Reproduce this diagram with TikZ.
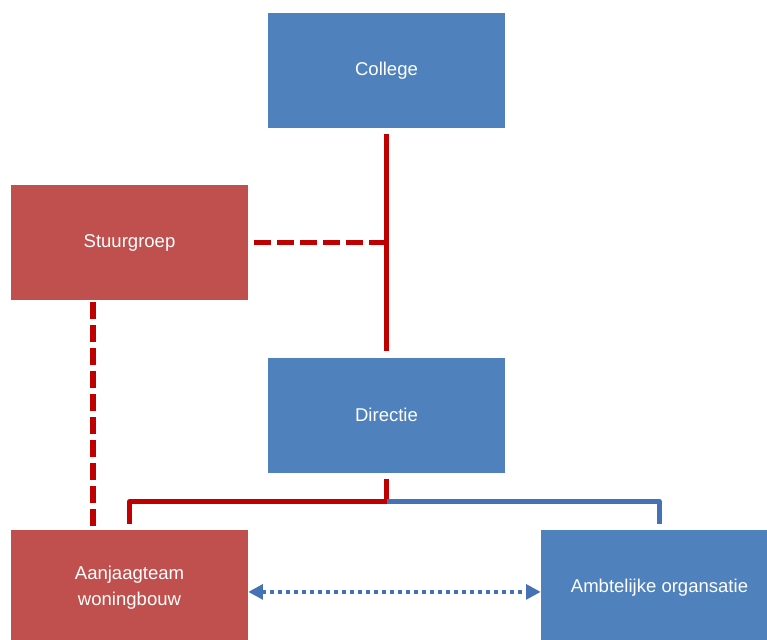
\documentclass[tikz,border=0pt]{standalone}
\usepackage{fontspec}
\setmainfont{Liberation Sans}
\usetikzlibrary{positioning}
\usetikzlibrary{arrows.meta}

\definecolor{boxBlue}{RGB}{79,129,189}
\definecolor{boxRed}{RGB}{192,80,77}
\definecolor{lineRed}{RGB}{192,0,0}
\definecolor{lineBlue}{RGB}{68,114,180}

\begin{document}
\begin{tikzpicture}[x=0.75pt,y=-0.75pt,
  box/.style={minimum width=177.75pt,minimum height=86.25pt,inner sep=0pt,
    text=white,font=\fontsize{13.9}{19.5}\selectfont,align=center},
  bluebox/.style={box,fill=boxBlue},
  redbox/.style={box,fill=boxRed},
  redline/.style={draw=lineRed,line width=4pt},
  reddash/.style={redline,dash pattern=on 12.75pt off 4.5pt},
  blueline/.style={draw=lineBlue,line width=4pt},
  bluedots/.style={draw=lineBlue,line width=3pt,dash pattern=on 3pt off 3pt,
    {Triangle[length=11pt,width=11pt]}-{Triangle[length=11pt,width=11pt]}}]
\path[use as bounding box,fill=white] (0,0) rectangle (767,639);
\clip (0,0) rectangle (767,639);

% boxes
\node[bluebox] (college) at (386.5,70.5) {College};
\node[redbox] (stuur) at (129.5,242.5) {Stuurgroep};
\node[bluebox] (directie) at (386.5,415) {Directie};
\node[redbox] (aanjaag) at (129.5,587.5) {Aanjaagteam\\woningbouw};
\node[bluebox] (ambt) at (659.5,587.5) {Ambtelijke organsatie};

% lines
\coordinate (split) at ([yshift=-21.75pt]directie.south);
\draw[redline,shorten <=4.5pt,shorten >=4.5pt] (college.south) -- (directie.north);
\draw[reddash,shorten <=4.5pt] (stuur.east) -- (stuur.east -| college.south);
\draw[reddash,shorten <=1.5pt] ([xshift=-27.4pt]stuur.south) -- ([xshift=-27.4pt]aanjaag.north);
\draw[redline,line join=round,shorten <=4.5pt,shorten >=4.5pt]
  (directie.south) -- (split) -| (aanjaag.north);
\draw[blueline,line join=round,shorten >=4.5pt] (split) -| (ambt.north);
\draw[bluedots] ([yshift=-3.3pt]aanjaag.east) -- ([yshift=-3.3pt]ambt.west);
\end{tikzpicture}
\end{document}
